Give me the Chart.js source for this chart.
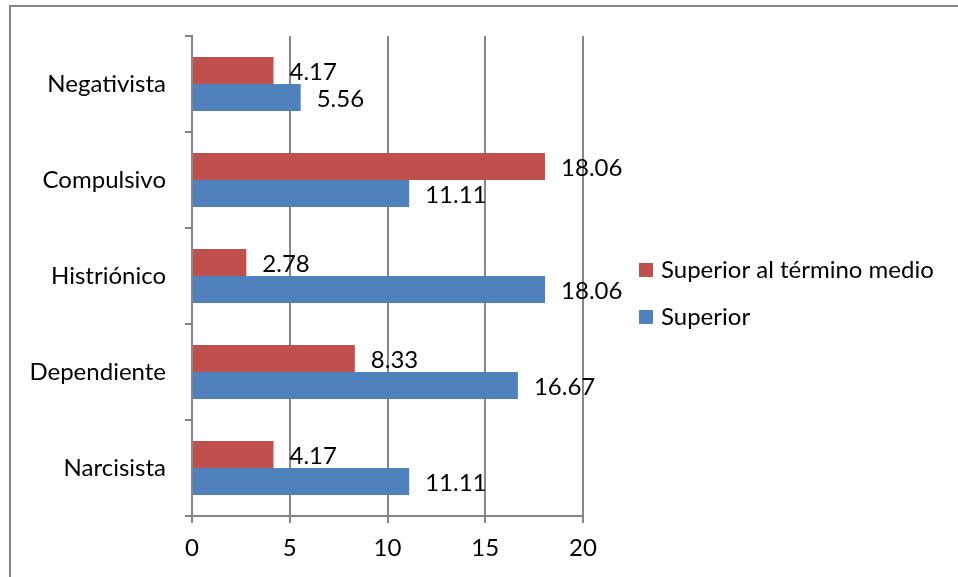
<!DOCTYPE html>
<html>
<head>
<meta charset="utf-8">
<script src="https://cdn.jsdelivr.net/npm/chart.js@4"></script>
<style>
  html, body { margin: 0; padding: 0; background: #fff; }
  #wrap { width: 958px; height: 577px; position: relative; }
</style>
</head>
<body>
<div id="wrap"><canvas id="chart"></canvas></div>
<script>
// datos
const categories = ['Negativista', 'Compulsivo', 'Histriónico', 'Dependiente', 'Narcisista'];
const superiorMedio = [4.17, 18.06, 2.78, 8.33, 4.17];
const superior = [5.56, 11.11, 18.06, 16.67, 11.11];
const xTicks = [0, 5, 10, 15, 20];

const RED = '#C0504D';
const BLUE = '#4F81BD';
const GRID = '#868686';
const FONT = 'Lato, "Open Sans", sans-serif';
const FS = 24;

// etiquetas de valor a la derecha de cada barra
const valueLabels = {
  id: 'valueLabels',
  afterDatasetsDraw(chart) {
    const ctx = chart.ctx;
    ctx.save();
    ctx.fillStyle = '#000';
    ctx.font = FS + 'px ' + FONT;
    ctx.textAlign = 'left';
    ctx.textBaseline = 'middle';
    chart.data.datasets.forEach((ds, di) => {
      chart.getDatasetMeta(di).data.forEach((bar, i) => {
        ctx.fillText(ds.data[i].toFixed(2), bar.x + 16, bar.y + 1.5);
      });
    });
    ctx.restore();
  }
};

// leyenda y marco recortado (solo borde superior e izquierdo)
const frameLegend = {
  id: 'frameLegend',
  afterDraw(chart) {
    const ctx = chart.ctx;
    ctx.save();
    ctx.strokeStyle = GRID;
    ctx.lineWidth = 2;
    ctx.beginPath();
    ctx.moveTo(10, 577);
    ctx.lineTo(10, 6);
    ctx.lineTo(958, 6);
    ctx.stroke();

    ctx.font = FS + 'px ' + FONT;
    ctx.textBaseline = 'middle';
    ctx.textAlign = 'left';
    const rows = [270, 317];
    chart.data.datasets.forEach((ds, i) => {
      const y = rows[i];
      ctx.fillStyle = ds.backgroundColor;
      ctx.fillRect(639, y - 7, 14, 14);
      ctx.fillStyle = '#000';
      ctx.fillText(ds.label, 661, y);
    });
    ctx.restore();
  }
};

new Chart(document.getElementById('chart'), {
  type: 'bar',
  data: {
    labels: categories,
    datasets: [
      {
        label: 'Superior al término medio',
        data: superiorMedio,
        backgroundColor: RED,
        categoryPercentage: 0.5625,
        barPercentage: 1
      },
      {
        label: 'Superior',
        data: superior,
        backgroundColor: BLUE,
        categoryPercentage: 0.5625,
        barPercentage: 1
      }
    ]
  },
  options: {
    indexAxis: 'y',
    responsive: true,
    maintainAspectRatio: false,
    animation: false,
    layout: { padding: { left: 0, top: 36, right: 375, bottom: 0 } },
    plugins: {
      legend: { display: false },
      tooltip: { enabled: false }
    },
    scales: {
      x: {
        min: 0,
        max: 20,
        afterBuildTicks: scale => { scale.ticks = xTicks.map(v => ({ value: v })); },
        afterFit: scale => { scale.height = 577 - 516; },
        ticks: { color: '#000', font: { family: FONT, size: FS }, padding: 11 },
        grid: { color: GRID, lineWidth: 2, tickLength: 7 },
        border: { color: GRID, width: 2 }
      },
      y: {
        afterFit: scale => { scale.width = 192; },
        ticks: { color: '#000', font: { family: FONT, size: FS }, padding: 19 },
        grid: { drawOnChartArea: false, color: GRID, lineWidth: 2, tickLength: 7 },
        border: { color: GRID, width: 2 }
      }
    }
  },
  plugins: [valueLabels, frameLegend]
});
</script>
</body>
</html>
